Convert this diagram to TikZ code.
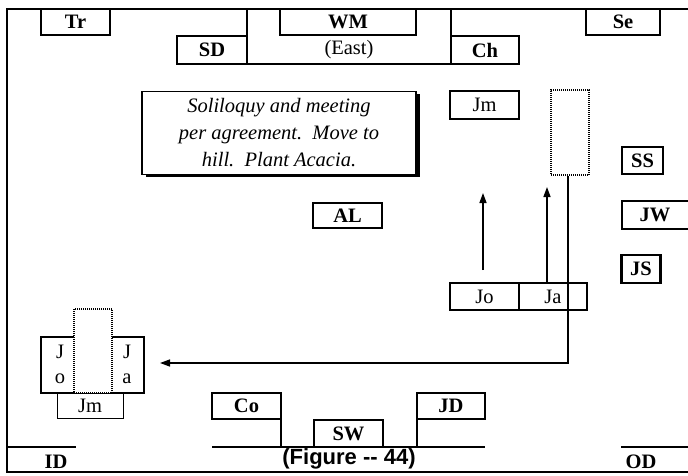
\documentclass[tikz,border=0pt]{standalone}
\usepackage{fontspec}
\setmainfont{Liberation Serif}
\newfontfamily\capfont{Liberation Sans}
\usetikzlibrary{arrows.meta}
\begin{document}
\begin{tikzpicture}[x=1pt,y=-1pt,
  lblfont/.style={font=\fontsize{20.5}{24}\selectfont\bfseries},
  regfont/.style={font=\fontsize{20.5}{24}\selectfont},
  box/.style={draw,line width=2.6pt,rectangle,inner sep=0pt,lblfont},
  rbox/.style={draw,line width=2.6pt,rectangle,inner sep=0pt,regfont},
  dotbox/.style={draw,line width=2pt,dash pattern=on 1pt off 1pt,rectangle,inner sep=0pt},
  wall/.style={line width=2.6pt},
  conn/.style={line width=1.4pt},
  tip/.style={-{Triangle[length=10pt,width=7pt]}}
]
\useasboundingbox (0,0) rectangle (688,475);
\clip (0,0) rectangle (688,475);
% frame
\draw[wall] (695,9) -- (7,9) -- (7,472) -- (695,472);
% top wall pieces
\node[box,minimum width=69pt,minimum height=26pt] (Tr) at (75.5,22) {Tr};
\node[box,minimum width=70pt,minimum height=28pt] (SD) at (212,50) {SD};
\node[box,minimum width=136pt,minimum height=26pt] (WM) at (348,22) {WM};
\node[box,minimum width=68pt,minimum height=28pt] (Ch) at (485,50) {Ch};
\node[box,minimum width=74pt,minimum height=26pt] (Se) at (623,22) {Se};
\draw[wall] (247,9) -- (247,64) (451,9) -- (451,64) (177,64) -- (519,64);
\node[regfont] (East) at (349,50) {(East)};
% instruction box
\fill (146,94) rectangle (420,177);
\node[draw,fill=white,line width=1.2pt,minimum width=274pt,minimum height=83pt,inner sep=0pt,
  align=center,font=\fontsize{20.5}{27}\selectfont\itshape] (note) at (279,133)
  {Soliloquy and meeting\\per agreement.\ \ Move to\\hill.\ \ Plant Acacia.};
% upper right
\node[rbox,minimum width=69pt,minimum height=28pt] (Jm1) at (484.5,105) {Jm};
\node[dotbox,minimum width=38pt,minimum height=85pt] (hill1) at (570,132.5) {};
\node[box,minimum width=41pt,minimum height=27pt] (SS) at (642.5,160.5) {SS};
\draw[wall] (700,201) -- (622,201) -- (622,229) -- (700,229);
\node[lblfont] (JW) at (655,215) {JW};
\node[box,minimum width=39pt,minimum height=28pt] (JS) at (641,269) {JS};
\node[box,minimum width=69pt,minimum height=25pt] (AL) at (347.5,215.5) {AL};
% Jo Ja
\node[rbox,minimum width=69pt,minimum height=27pt] (Jo) at (484.5,296.5) {Jo};
\node[rbox,minimum width=68pt,minimum height=27pt] (Ja) at (553,296.5) {Ja};
\coordinate (a1s) at (483,270);
\coordinate (a1e) at (483,193);
\draw[conn,tip] (a1s) -- (a1e);
\draw[conn,tip] (Ja.north -| 547,0) -- (547,187);
% lower left group
\node[draw,line width=2.6pt,minimum width=103pt,minimum height=56pt,inner sep=0pt] (grp) at (92.5,365) {};
\node[dotbox,fill=white,minimum width=38pt,minimum height=84pt] (hill2) at (93,351) {};
\node[regfont] (J1) at (60,352) {J};
\node[regfont] (o1) at (60,379) {o};
\node[regfont] (J2) at (127,352) {J};
\node[regfont] (a2) at (127,379) {a};
\node[regfont] (Jm2) at (90,406) {Jm};
\draw[line width=0.9pt] (57,393) -- (57,418) -- (123,418) -- (123,393);
% move connector
\coordinate (tipL) at (160,363);
\draw[conn,tip] ([xshift=-2pt]hill1.south) |- (tipL);
% bottom wall
\node[box,minimum width=69pt,minimum height=26pt] (Co) at (246.5,406) {Co};
\node[box,minimum width=68pt,minimum height=26pt] (JD) at (451,406) {JD};
\node[box,minimum width=69pt,minimum height=27pt] (SW) at (348.5,433.5) {SW};
\draw[wall] (281,393) -- (281,447) (417,393) -- (417,447) (212,447) -- (485,447);
\node[font=\capfont\bfseries\fontsize{22}{24}\selectfont] (cap) at (349,459) {(Figure -- 44)};
% doors
\draw[wall] (7,447) -- (76,447);
\node[lblfont] (ID) at (56,462) {ID};
\draw[wall] (621,447) -- (695,447);
\node[lblfont] (OD) at (641,462) {OD};
\end{tikzpicture}
\end{document}
